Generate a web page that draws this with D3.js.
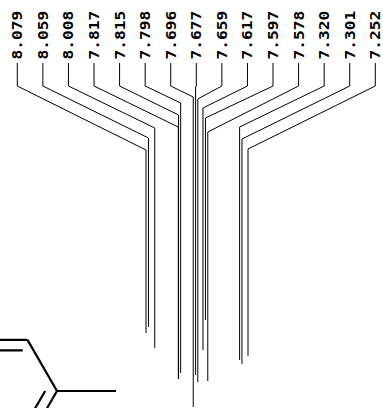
<!DOCTYPE html>
<html>
<head>
<meta charset="utf-8">
<script src="https://d3js.org/d3.v7.min.js"></script>
<style>
  html, body { margin: 0; padding: 0; background: #fff; }
  svg { display: block; }
</style>
</head>
<body>
<svg id="chart"></svg>
<script>
const width = 383;
const height = 408;

// peak shifts as printed
const shifts = [8.079, 8.059, 8.008, 7.817, 7.815, 7.798, 7.696, 7.677, 7.659, 7.617, 7.597, 7.578, 7.320, 7.301, 7.252];
// how far down the lead line runs before it turns vertical
const elbows = [150, 138, 128, 127, 115, 103, 97, 87, 99, 108, 118, 132, 127, 139, 149];
// where each lead line stops
const tips = [333, 327, 348, 379, 379, 373, 407, 375, 382, 350, 320, 381, 360, 364, 356];

// structure fragment, in bond lengths: x1, y1, x2, y2
const bonds = [
  [-0.5, -0.866, -1.5, -0.866],
  [-0.58, -0.69, -1.5, -0.69],
  [-0.5, -0.866, 0, 0],
  [0, 0, 1, 0],
  [0, 0, -0.5, 0.866],
  [-0.2, 0, -0.55, 0.6]
];

const svg = d3.select('#chart').attr('width', width).attr('height', height);

const ppmX = d3.scaleLinear().domain([8.079, 7.252]).range([146, 248]);
const labelX = d3.scalePoint().domain(shifts).range([17.3, 375.3]);
const depthY = d3.scaleLinear().domain([0, height]).range([0, height]);
const bondX = d3.scaleLinear().domain([0, 1]).range([57, 116]);
const bondY = d3.scaleLinear().domain([0, 1]).range([391, 450]);

const labelTop = 63;
const labelKnee = 86;

const peaks = shifts.map((d, i) => ({ shift: d, elbow: elbows[i], tip: tips[i] }));

const lead = d3.line();

svg.append('g')
  .attr('class', 'leads')
  .selectAll('path')
  .data(peaks)
  .enter().append('path')
    .attr('fill', 'none')
    .attr('stroke', '#000')
    .attr('stroke-width', 1)
    .attr('d', d => lead([
      [labelX(d.shift), depthY(labelTop)],
      [labelX(d.shift), depthY(labelKnee)],
      [ppmX(d.shift), depthY(d.elbow)],
      [ppmX(d.shift), depthY(d.tip)]
    ]));

// labels are wider than the font, so stretch along the reading direction
svg.append('g')
  .attr('class', 'labels')
  .selectAll('text')
  .data(peaks)
  .enter().append('text')
    .attr('transform', d => `translate(${labelX(d.shift) + 5},59.5) rotate(-90) scale(1.2,1)`)
    .attr('font-family', '"DejaVu Sans Mono", monospace')
    .attr('font-weight', 'bold')
    .attr('font-size', 13.5)
    .attr('fill', '#000')
    .text(d => d.shift.toFixed(3));

svg.append('g')
  .attr('class', 'bonds')
  .selectAll('line')
  .data(bonds)
  .enter().append('line')
    .attr('x1', d => bondX(d[0]))
    .attr('y1', d => bondY(d[1]))
    .attr('x2', d => bondX(d[2]))
    .attr('y2', d => bondY(d[3]))
    .attr('stroke', '#000')
    .attr('stroke-width', 2.2);
</script>
</body>
</html>
